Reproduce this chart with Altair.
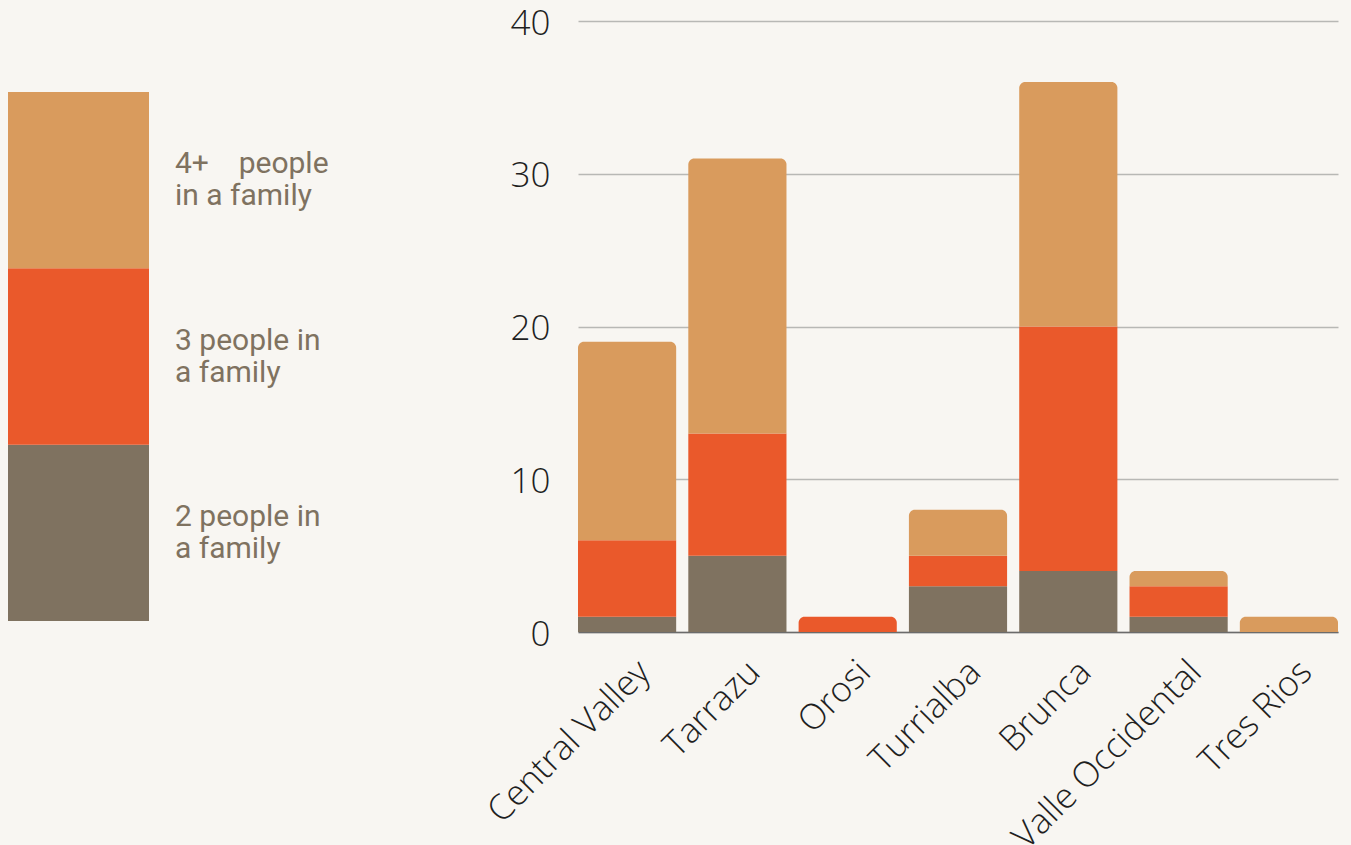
import altair as alt
import pandas as pd

# Households by region and family size
regions = ["Central Valley", "Tarrazu", "Orosi", "Turrialba", "Brunca",
           "Valle Occidental", "Tres Rios"]
two_people = [1, 5, 0, 3, 4, 1, 0]
three_people = [5, 8, 1, 2, 16, 2, 0]
four_plus_people = [13, 18, 0, 3, 16, 1, 1]

groups = ["2 people", "3 people", "4+ people"]
group_labels = [
    "2 people in\na family",
    "3 people in\na family",
    "4+\u00a0\u00a0\u00a0\u00a0people\nin a family",
]
group_colors = ["#7f7260", "#ea592b", "#d99b5d"]
y_ticks = [0, 10, 20, 30, 40]

rows = []
for order, (g, series) in enumerate(zip(groups, [two_people, three_people, four_plus_people])):
    for r, v in zip(regions, series):
        rows.append({"region": r, "group": g, "count": v, "order": order})
df = pd.DataFrame(rows)

legend_df = pd.DataFrame({"group": groups, "label": group_labels})

color_scale = alt.Scale(domain=groups, range=group_colors)
y_scale = alt.Scale(domain=[0, 40], nice=False)

base = (
    alt.Chart(df)
    .transform_filter("datum.count > 0")
    .transform_stack(stack="count", groupby=["region"], as_=["y0", "y1"],
                     sort=[alt.SortField("order")])
    .transform_joinaggregate(total="max(y1)", groupby=["region"])
)

x_enc = alt.X(
    "region:N", sort=regions, title=None,
    scale=alt.Scale(paddingInner=0.11, paddingOuter=0),
    axis=alt.Axis(labelAngle=-45, labelFont="Open Sans", labelFontWeight=300,
                  labelFontSize=35, labelColor="#1f1f1f", ticks=False,
                  labelLimit=0, labelPadding=22, labelOffset=5,
                  domainColor="#6b6b6b", domainWidth=1.5),
)
y_enc = alt.Y(
    "y0:Q", scale=y_scale, title=None,
    axis=alt.Axis(values=y_ticks, ticks=False, domain=False, labelPadding=28,
                  labelFont="Open Sans", labelFontWeight=300, labelFontSize=35,
                  labelColor="#1f1f1f", labelOffset=2,
                  gridColor="#b8b8b5", gridWidth=1.3),
)

lower = base.transform_filter("datum.y1 < datum.total").mark_bar().encode(
    x=x_enc, y=y_enc, y2="y1:Q",
    color=alt.Color("group:N", scale=color_scale, legend=None),
)
top = base.transform_filter("datum.y1 >= datum.total").mark_bar(
    cornerRadiusTopLeft=6, cornerRadiusTopRight=6
).encode(
    x=x_enc, y=alt.Y("y0:Q", scale=y_scale), y2="y1:Q",
    color=alt.Color("group:N", scale=color_scale, legend=None),
)
bars = alt.layer(lower, top)

# Key on the left: tall colour blocks with their captions
key_scale = alt.Scale(domain=groups[::-1], paddingInner=0, paddingOuter=0.2325, align=0.866)
key_blocks = alt.Chart(legend_df).mark_bar().encode(
    y=alt.Y("group:N", scale=key_scale, axis=None),
    x=alt.value(-570), x2=alt.value(-429),
    color=alt.Color("group:N", scale=color_scale, legend=None),
)
key_text = alt.Chart(legend_df).mark_text(
    align="left", baseline="middle", lineBreak="\n", font="Roboto",
    fontSize=30, lineHeight=32, dy=-16, color="#7f7260",
).encode(
    y=alt.Y("group:N", scale=key_scale, axis=None),
    x=alt.value(-403),
    text="label:N",
)
key = alt.layer(key_blocks, key_text)

chart = (
    alt.layer(bars, key)
    .resolve_scale(y="independent", x="independent")
    .properties(
        width=760, height=611,
        autosize=alt.AutoSizeParams(type="none"),
        padding={"left": 578, "top": 21, "right": 13, "bottom": 213},
        background="#f8f6f2",
    )
    .configure_view(stroke=None)
)

chart.save("out.html", embed_options={"renderer": "svg", "actions": False})
